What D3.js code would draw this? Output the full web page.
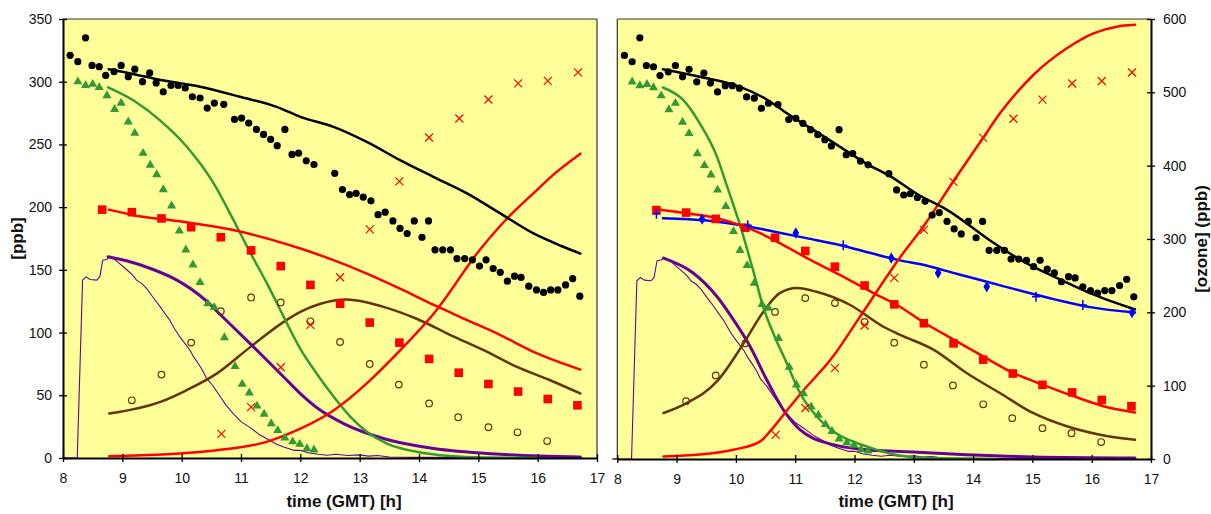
<!DOCTYPE html>
<html><head><meta charset="utf-8">
<script src="https://cdn.jsdelivr.net/npm/d3@7"></script>
<style>body{margin:0;background:#fff;} text{font-family:"Liberation Sans",Arial,sans-serif;}</style>
</head><body><svg id="c" width="1211" height="514"></svg>
<script>
// ---------- DATA (time in h GMT, concentrations in ppb) ----------
const xTicks = [8,9,10,11,12,13,14,15,16,17];
const yTicksLeft = [0,50,100,150,200,250,300,350];
const yTicksOzone = [0,100,200,300,400,500,600];

const blackDots = [[8.12,321],[8.25,316],[8.38,335],[8.49,313],[8.61,312],[8.72,305],[8.86,308],[8.98,313],[9.10,304],[9.21,310],[9.34,300],[9.46,307],[9.57,299],[9.69,292],[9.82,297],[9.94,297],[10.06,295],[10.18,288],[10.31,287],[10.43,279],[10.55,283],[10.71,282],[10.89,270],[11.01,271],[11.13,267],[11.26,262],[11.38,258],[11.50,254],[11.61,249],[11.74,262],[11.86,242],[11.97,243],[12.10,237],[12.23,234],[12.58,227],[12.71,214],[12.83,210],[12.94,211],[13.06,208],[13.19,205],[13.31,194],[13.43,196],[13.56,189],[13.68,183],[13.80,179],[13.92,189],[14.05,176],[14.16,189],[14.27,166],[14.40,166],[14.53,166],[14.64,159],[14.77,159],[14.90,158],[15.02,153],[15.13,158],[15.25,151],[15.37,148],[15.49,141],[15.61,145],[15.72,144],[15.85,137],[15.98,134],[16.10,132],[16.22,134],[16.34,134],[16.47,138],[16.59,143],[16.71,129]];
const blackModelL = [[8.77,310],[9.20,306],[9.58,302],[10.31,296],[10.98,288],[11.60,280],[12.0,272],[12.56,264],[13.12,252],[13.68,237.5],[14.25,224],[14.81,211],[15.37,195],[15.93,179],[16.40,169],[16.72,163]];
const blackModelR = [[8.77,310],[9.39,304],[10.07,296],[10.52,286],[10.86,275],[11.30,262],[11.75,248.5],[12.2,235],[12.6,225],[13.05,211],[13.6,197],[14.28,174],[14.85,157],[15.41,144],[15.97,132],[16.73,119]];

const greenTri = [[8.25,300],[8.38,297],[8.50,298],[8.61,295.5],[8.74,289],[8.87,278],[8.98,283],[9.10,268],[9.21,259],[9.35,243],[9.47,233.5],[9.58,226],[9.69,214],[9.83,201],[9.96,181],[10.07,166],[10.19,154],[10.31,140],[10.44,123],[10.55,120],[10.72,96],[10.90,73],[11.02,59],[11.14,52],[11.27,41.5],[11.39,35],[11.51,27.5],[11.62,22],[11.74,16],[11.87,13],[11.99,11],[12.11,7.5],[12.23,6.5]];
const greenModelL = [[8.76,295.5],[9.19,285],[9.64,269],[10.09,248],[10.54,219],[10.87,190],[11.13,166],[11.44,139],[11.72,112.5],[12.0,87],[12.28,67],[12.56,49],[12.84,33],[13.12,21],[13.46,11.5],[13.96,5],[14.53,1.5],[15.09,0.3],[16.0,0]];
const greenModelR = [[8.77,295.5],[9.11,285.6],[9.39,267],[9.68,240.5],[9.85,217],[10.07,186],[10.32,145],[10.46,121],[10.63,100],[10.86,76],[11.08,52.5],[11.36,34],[11.64,22],[12.2,10],[12.94,1.6],[13.5,0.5],[14.37,0]];

const redSquares = [[8.66,198],[9.16,196],[9.66,191],[10.16,184],[10.66,176],[11.17,165.5],[11.67,153],[12.17,138],[12.67,123],[13.17,108],[13.67,92],[14.17,79],[14.67,68],[15.17,59],[15.67,53],[16.17,47],[16.67,42]];
const redModelL = [[8.77,198],[9.19,193.6],[10.03,188.3],[10.87,181.7],[12.0,167],[12.56,157.7],[13.12,147],[13.68,135],[14.25,122],[14.81,110],[15.37,98],[15.93,84.6],[16.72,70.5]];
const redModelR = [[8.66,198.7],[9.17,195.5],[9.68,191.5],[10.07,186],[10.41,179.6],[10.74,171.7],[11.19,160],[11.75,146.5],[12.32,132],[12.71,122.7],[13.19,108],[13.67,95],[14.17,81.6],[14.68,68.4],[15.18,59],[15.69,50],[16.2,42],[16.73,37]];

// ozone (right axis, 0-600 ppb)
const ozoneCross = [[10.67,33],[11.17,69.5],[11.67,124],[12.17,182],[12.67,247],[13.17,312.5],[13.67,378],[14.17,438],[14.68,464],[15.17,490],[15.67,512],[16.17,515.5],[16.68,527]];
const ozoneModelL = [[8.78,2.3],[9.75,5],[10.59,10.5],[11.43,22],[12.0,40],[12.56,65],[13.12,102],[13.68,147],[14.25,197.5],[15.03,285],[15.48,327],[15.93,362],[16.32,391],[16.72,416]];
const ozoneModelR = [[8.78,3.5],[9.39,6],[9.96,12.7],[10.41,24],[10.6,40],[10.80,60],[11.08,88],[11.64,140],[12.06,190],[12.77,275],[13.17,318],[13.67,379],[14.17,438],[14.45,471],[15.02,524],[15.58,560],[16.03,580.5],[16.42,589.5],[16.73,592]];

const brownCircles = [[9.16,46],[9.66,66.5],[10.16,92],[10.66,117],[11.17,128],[11.67,124],[12.17,109],[12.67,92.5],[13.17,75],[13.66,58.5],[14.17,43.5],[14.66,32.5],[15.17,24.5],[15.66,20.5],[16.16,13.5]];
const brownModelL = [[8.78,35.4],[9.64,44.7],[10.08,54],[10.59,67.3],[11.16,88.6],[11.72,108.5],[12.0,116.5],[12.34,123],[12.78,126.4],[13.40,120.5],[13.96,111],[14.53,98],[15.09,86],[15.65,72.6],[16.21,62],[16.72,51.4]];
const brownModelR = [[8.78,36.6],[9.17,44.5],[9.68,61.7],[10.13,92],[10.46,117],[10.74,132],[11.03,136],[11.36,133],[11.92,122.7],[12.48,105.4],[12.77,98.8],[13.33,87],[13.89,68.4],[14.45,52.5],[15.01,36.6],[15.58,26],[16.14,19.3],[16.73,15.3]];

const purpleMeas = [[8.0,0],[8.24,0],[8.33,141.8],[8.39,144.4],[8.455,142.3],[8.57,141.8],[8.62,144.4],[8.67,157.7],[8.74,158.3],[8.79,160.4],[8.9,157.2],[9.07,150.3],[9.17,146],[9.24,141.8],[9.33,139],[9.41,135.1],[9.52,128],[9.64,120.5],[9.72,115],[9.80,109.9],[9.88,103],[9.97,96.5],[10.06,91],[10.14,85.9],[10.21,80],[10.28,75.3],[10.35,70],[10.42,63.3],[10.52,58],[10.65,49],[10.75,42],[10.87,35.4],[11.0,29],[11.16,24],[11.3,19],[11.43,15.5],[11.6,11],[11.72,8.8],[11.89,6.1],[12.0,6.1],[12.15,4],[12.3,3],[12.45,2.2],[12.6,3],[12.8,2],[13.0,2.5],[13.15,1.5],[13.3,2],[13.5,0.8],[14.0,0.5],[15.0,0.3],[16.7,0.2]];
const purpleModelL = [[8.76,160.4],[9.07,157.2],[9.52,150.3],[9.92,141.8],[10.42,125],[10.65,114.4],[11.21,88.6],[11.72,64.6],[12.0,51.4],[12.34,38],[12.73,27.4],[13.40,15.5],[14.25,7.5],[15.37,3],[16.72,0.8]];
const purpleModelR = [[8.78,159.8],[9.28,148],[9.68,129.3],[9.96,110.7],[10.24,89.5],[10.52,63],[10.80,39.2],[11.08,23.3],[11.64,11.4],[12.2,7.4],[12.77,6],[13.89,3.4],[15.01,1.6],[16.73,0.8]];

const blueDiamonds = [[9.43,190.8],[11.01,179.7],[12.62,159.8],[13.41,148],[14.23,137],[16.68,116.5]];
const bluePlus = [[8.66,195],[10.2,186],[11.81,170],[15.06,129],[15.85,122.5]];
const blueModelR = [[8.77,191.6],[9.51,189.7],[10.07,186.2],[10.63,181],[11.19,175.7],[11.75,170.3],[12.32,163.2],[12.77,158],[13.16,154.5],[13.72,147.3],[14.28,140.4],[14.85,133.2],[15.41,126.6],[15.97,120.8],[16.73,116.5]];

// ---------- COLOURS ----------
const C = {bg:"#FFFF99", black:"#000000", green:"#339933", red:"#FF0000", purple:"#660099", brown:"#663300", blue:"#0000FF"};

const svg = d3.select("#c");
const panels = [
  {x0:63, x1:597, y0:458, y1:19, side:"L"},
  {x0:617.3, x1:1151, y0:459, y1:19, side:"R"}
];

function drawPanel(p, i) {
  const x = d3.scaleLinear().domain([8,17]).range([p.x0,p.x1]);
  const y = d3.scaleLinear().domain([0,350]).range([p.y0,p.y1]);
  const yo = d3.scaleLinear().domain([0,600]).range([p.y0,p.y1]);
  const g = svg.append("g");
  g.append("rect").attr("x",p.x0).attr("y",p.y1).attr("width",p.x1-p.x0).attr("height",p.y0-p.y1).attr("fill",C.bg);
  const cid = "clip"+i;
  g.append("clipPath").attr("id",cid).append("rect").attr("x",p.x0).attr("y",p.y1).attr("width",p.x1-p.x0).attr("height",p.y0-p.y1+2);
  g.append("line").attr("x1",p.x0).attr("x2",p.x1).attr("y1",p.y1).attr("y2",p.y1).attr("stroke","#333").attr("stroke-width",1.2);
  const bx = p.side==="L" ? p.x1 : p.x0;
  g.append("line").attr("x1",bx).attr("x2",bx).attr("y1",p.y1).attr("y2",p.y0).attr("stroke","#333").attr("stroke-width",1.2);

  const P = g.append("g").attr("clip-path",`url(#${cid})`);
  const line = (sc, curve) => d3.line().x(d=>x(d[0])).y(d=>sc(d[1])).curve(curve||d3.curveMonotoneX);
  const L = p.side==="L";
  const addLine = (data, sc, color, w, curve) => P.append("path").datum(data).attr("d", line(sc,curve)).attr("fill","none").attr("stroke",color).attr("stroke-width",w).attr("stroke-linejoin","round").attr("stroke-linecap","round");

  addLine(purpleMeas, y, C.purple, 1.1, d3.curveLinear);
  addLine(L?brownModelL:brownModelR, y, C.brown, 2.5);
  addLine(L?purpleModelL:purpleModelR, y, C.purple, 3);
  addLine(L?greenModelL:greenModelR, y, C.green, 2.5);
  if (!L) addLine(blueModelR, y, C.blue, 2.5);
  addLine(L?redModelL:redModelR, y, C.red, 2.5);
  addLine(L?ozoneModelL:ozoneModelR, yo, C.red, 2.5);
  addLine(L?blackModelL:blackModelR, y, C.black, 2.5);

  P.selectAll(".bc").data(brownCircles).join("circle").attr("cx",d=>x(d[0])).attr("cy",d=>y(d[1])).attr("r",3.3).attr("fill","none").attr("stroke",C.brown).attr("stroke-width",1.2);
  P.selectAll(".tri").data(greenTri).join("path").attr("d",d3.symbol(d3.symbolTriangle,36)).attr("transform",d=>`translate(${x(d[0])},${y(d[1])})`).attr("fill",C.green);
  P.selectAll(".sq").data(redSquares).join("rect").attr("x",d=>x(d[0])-4.3).attr("y",d=>y(d[1])-4.3).attr("width",8.6).attr("height",8.6).attr("fill",C.red);
  if (!L) {
    P.selectAll(".dia").data(blueDiamonds).join("path").attr("d",d3.symbol(d3.symbolDiamond,38)).attr("transform",d=>`translate(${x(d[0])},${y(d[1])})`).attr("fill",C.blue);
    P.selectAll(".pl").data(bluePlus).join("path").attr("d","M0,-5V5M-4,0H4").attr("transform",d=>`translate(${x(d[0])},${y(d[1])})`).attr("stroke",C.blue).attr("stroke-width",1.5);
  }
  P.selectAll(".xx").data(ozoneCross).join("path").attr("d","M-4,-4L4,4M-4,4L4,-4").attr("transform",d=>`translate(${x(d[0])},${yo(d[1])})`).attr("stroke",C.red).attr("stroke-width",1.2).attr("fill","none");
  P.selectAll(".bd").data(blackDots).join("circle").attr("cx",d=>x(d[0])).attr("cy",d=>y(d[1])).attr("r",3.6).attr("fill",C.black);

  const ax = g.append("g").attr("transform",`translate(0,${p.y0})`)
    .call(d3.axisBottom(x).tickValues(xTicks).tickFormat(d3.format("d")).tickSizeInner(4).tickSizeOuter(0).tickPadding(11));
  ax.select(".domain").attr("stroke","#000").attr("stroke-width",2);
  ax.selectAll(".tick line").attr("y1",-4).attr("y2",4).attr("stroke","#000").attr("stroke-width",1.3);
  ax.selectAll(".tick text").attr("font-size",14).attr("fill","#111").style("font-family","Liberation Sans, Arial, sans-serif");
  if (!L) g.append("line").attr("x1",p.x0-5).attr("x2",p.x0).attr("y1",p.y0).attr("y2",p.y0).attr("stroke","#000").attr("stroke-width",1.3);

  if (L) {
    const ay = g.append("g").attr("transform",`translate(${p.x0},0)`)
      .call(d3.axisLeft(y).tickValues(yTicksLeft).tickSizeInner(4).tickSizeOuter(0).tickPadding(7));
    ay.select(".domain").attr("stroke","#000").attr("stroke-width",2);
    ay.selectAll(".tick line").attr("x1",-4).attr("x2",4).attr("stroke","#000").attr("stroke-width",1.3);
    ay.selectAll(".tick text").attr("font-size",14).attr("fill","#111").style("font-family","Liberation Sans, Arial, sans-serif");
    g.append("text").attr("transform",`translate(23,${(p.y0+p.y1)/2}) rotate(-90)`).attr("text-anchor","middle")
      .attr("font-size",17).attr("font-weight","bold").attr("fill","#111").text("[ppb]");
  } else {
    const ay = g.append("g").attr("transform",`translate(${p.x1},0)`)
      .call(d3.axisRight(yo).tickValues(yTicksOzone).tickSizeInner(4).tickSizeOuter(0).tickPadding(8));
    ay.select(".domain").attr("stroke","#000").attr("stroke-width",2);
    ay.selectAll(".tick line").attr("x1",-4).attr("x2",4).attr("stroke","#000").attr("stroke-width",1.3);
    ay.selectAll(".tick text").attr("font-size",14).attr("fill","#111").style("font-family","Liberation Sans, Arial, sans-serif");
    g.append("text").attr("transform",`translate(1207,${(p.y0+p.y1)/2}) rotate(-90)`).attr("text-anchor","middle")
      .attr("font-size",17).attr("font-weight","bold").attr("fill","#111").text("[ozone] (ppb)");
  }
  g.append("text").attr("x", L ? 344 : 896).attr("y",507).attr("text-anchor","middle")
    .attr("font-size",17).attr("font-weight","bold").attr("fill","#111").text("time (GMT) [h]");
}
panels.forEach(drawPanel);
</script></body></html>
